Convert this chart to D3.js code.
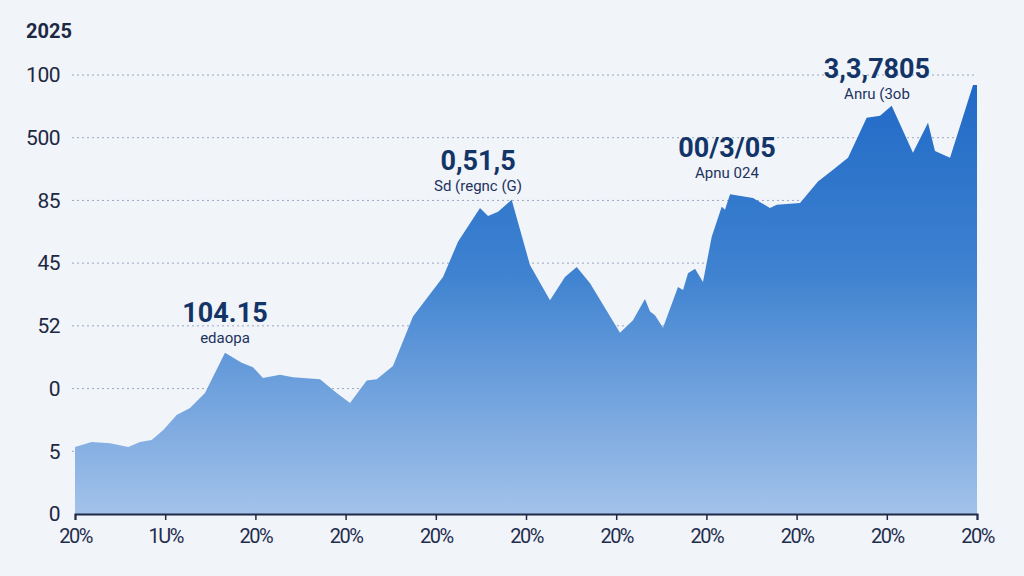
<!DOCTYPE html>
<html>
<head>
<meta charset="utf-8">
<script src="https://cdn.jsdelivr.net/npm/d3@7"></script>
<style>
  html, body { margin: 0; padding: 0; background: #f1f4f9; }
  svg { display: block; }
</style>
</head>
<body>
<svg id="chart" width="1024" height="576"></svg>
<script>
// Data (x in tick steps, y in grid bands)
var xValues = [0, 0.185, 0.388, 0.591, 0.721, 0.85, 0.979, 1.127, 1.275, 1.441, 1.663, 1.848, 1.973, 2.084,
    2.273, 2.417, 2.716, 2.901, 3.049, 3.234, 3.345, 3.525, 3.747, 4.08, 4.246, 4.49, 4.579, 4.69, 4.841,
    5.044, 5.266, 5.432, 5.562, 5.71, 6.042, 6.186, 6.319, 6.375, 6.43, 6.519, 6.685, 6.741, 6.796, 6.874,
    6.962, 7.059, 7.17, 7.206, 7.262, 7.517, 7.705, 7.78, 8.038, 8.237, 8.404, 8.57, 8.777, 8.925, 9.054,
    9.29, 9.457, 9.534, 9.701, 9.956, 10];
var yValues = [1.07, 1.15, 1.13, 1.07, 1.15, 1.18, 1.34, 1.58, 1.69, 1.93, 2.57, 2.41, 2.34, 2.17,
    2.22, 2.18, 2.15, 1.93, 1.77, 2.13, 2.15, 2.36, 3.15, 3.78, 4.34, 4.88, 4.75, 4.82, 5.01,
    3.97, 3.41, 3.78, 3.94, 3.68, 2.89, 3.09, 3.43, 3.23, 3.17, 2.97, 3.62, 3.57, 3.84, 3.91,
    3.70, 4.42, 4.90, 4.85, 5.10, 5.04, 4.88, 4.93, 4.96, 5.30, 5.49, 5.68, 6.32, 6.35, 6.51,
    5.76, 6.24, 5.79, 5.68, 6.84, 6.84];

var yTickLabels = ["0", "5", "0", "52", "45", "85", "500", "100"];
var xTickLabels = ["20%", "1U%", "20%", "20%", "20%", "20%", "20%", "20%", "20%", "20%", "20%"];

var annoX = [1.663, 4.468, 7.228, 8.891];
var annoY = [3.06, 5.49, 5.69, 6.95];
var annoValues = ["104.15", "0,51,5", "00/3/05", "3,3,7805"];
var annoLabels = ["edaopa", "Sd (regnc (G)", "Apnu 024", "Anru (3ob"];

var title = "2025";

var svg = d3.select("#chart"),
    width = +svg.attr("width"),
    height = +svg.attr("height");

var margin = { top: 75, right: 47, bottom: 62, left: 75 };

var x = d3.scaleLinear()
    .domain([0, 10])
    .range([margin.left, width - margin.right]);

var y = d3.scaleLinear()
    .domain([0, 7])
    .range([height - margin.bottom, margin.top]);

var data = xValues.map(function (d, i) { return { x: d, y: yValues[i] }; });

var defs = svg.append("defs");
var grad = defs.append("linearGradient")
    .attr("id", "areaFill")
    .attr("gradientUnits", "userSpaceOnUse")
    .attr("x1", 0).attr("y1", y(7))
    .attr("x2", 0).attr("y2", y(0));
grad.append("stop").attr("offset", "0%").attr("stop-color", "#1f68c6");
grad.append("stop").attr("offset", "45%").attr("stop-color", "#3e82d0");
grad.append("stop").attr("offset", "100%").attr("stop-color", "#a3c2ea");

// Dotted grid lines
svg.append("g")
    .selectAll("line")
    .data(d3.range(1, 8))
    .enter().append("line")
    .attr("x1", margin.left - 3)
    .attr("x2", x(10))
    .attr("y1", function (d) { return y(d); })
    .attr("y2", function (d) { return y(d); })
    .attr("stroke", "#9aa7c0")
    .attr("stroke-width", 1)
    .attr("stroke-dasharray", "2,3");

var area = d3.area()
    .x(function (d) { return x(d.x); })
    .y0(y(0))
    .y1(function (d) { return y(d.y); });

svg.append("path")
    .datum(data)
    .attr("fill", "url(#areaFill)")
    .attr("d", area);

// Y labels
svg.append("g")
    .selectAll("text")
    .data(yTickLabels)
    .enter().append("text")
    .attr("x", 60)
    .attr("y", function (d, i) { return y(i); })
    .attr("dy", "0.35em")
    .attr("text-anchor", "end")
    .attr("font-family", "Roboto, sans-serif")
    .attr("font-size", "21px")
    .attr("letter-spacing", "-0.5px")
    .attr("fill", "#1d2842")
    .text(function (d) { return d; });

// X axis
var xAxis = d3.axisBottom(x)
    .tickValues(d3.range(0, 11))
    .tickSize(6)
    .tickFormat(function (d, i) { return xTickLabels[i]; });

var gx = svg.append("g")
    .attr("transform", "translate(0," + y(0) + ")")
    .call(xAxis);
gx.select(".domain").attr("stroke", "#1e2a48").attr("stroke-width", 2);
gx.selectAll(".tick line").attr("stroke", "#1e2a48").attr("stroke-width", 1.5);
gx.selectAll(".tick text")
    .attr("font-family", "Roboto, sans-serif")
    .attr("font-size", "20px")
    .attr("letter-spacing", "-1.5px")
    .attr("fill", "#1f2d4d")
    .attr("dy", "1em");

// Title
svg.append("text")
    .attr("x", 26)
    .attr("y", 38)
    .attr("font-family", "Roboto, sans-serif")
    .attr("font-weight", "bold")
    .attr("font-size", "20px")
    .attr("fill", "#1d2842")
    .text(title);

// Annotations
var anno = svg.append("g")
    .selectAll("g")
    .data(annoValues)
    .enter().append("g")
    .attr("transform", function (d, i) { return "translate(" + x(annoX[i]) + "," + y(annoY[i]) + ")"; });

anno.append("text")
    .attr("text-anchor", "middle")
    .attr("font-family", "Roboto, sans-serif")
    .attr("font-weight", "bold")
    .attr("font-size", "27px")
    .attr("fill", "#133467")
    .text(function (d) { return d; });

anno.append("text")
    .attr("y", 21)
    .attr("text-anchor", "middle")
    .attr("font-family", "Roboto, sans-serif")
    .attr("font-size", "15px")
    .attr("fill", "#1c3360")
    .text(function (d, i) { return annoLabels[i]; });
</script>
</body>
</html>
